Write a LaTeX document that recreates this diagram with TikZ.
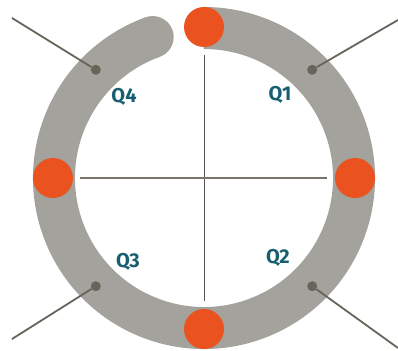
\documentclass[tikz,border=0pt]{standalone}
\usepackage{fontspec}
\setmainfont{Fira Sans}
\usepackage{xcolor}
\usepackage{tikz}
\definecolor{ringgrey}{HTML}{A4A29C}
\definecolor{pinorange}{HTML}{EA5220}
\definecolor{pindark}{HTML}{67645A}
\definecolor{axisdark}{HTML}{57534A}
\definecolor{qteal}{HTML}{175F70}

\begin{document}
\begin{tikzpicture}[x=1pt, y=1pt,
  ring/.style={draw=ringgrey, line width=42pt},
  bigdot/.style={circle, fill=pinorange, minimum size=40pt, inner sep=0pt},
  pin/.style={circle, fill=pindark, minimum size=10pt, inner sep=0pt},
  pinline/.style={pindark, line width=1.8pt},
  qlab/.style={font=\fontsize{20}{20}\selectfont\bfseries, text=qteal},
]
\useasboundingbox (-204,-172) rectangle (194,178);

% Ring (open at the top, round end on the left of the gap)
\draw[ring] (110:150) arc[start angle=110, end angle=450, radius=150];
\fill[ringgrey] (110:150) circle (21);

% Cross
\coordinate (ctop) at (0,123);
\coordinate (cbot) at (0,-123);
\coordinate (cleft) at (-124,0);
\coordinate (cright) at (123,0);
\draw[axisdark, line width=0.8pt] (ctop) -- (cbot);
\draw[axisdark!80, line width=1.2pt] (cleft) -- (cright);

% Orange markers on the ring
\node[bigdot] (mn) at (90:151) {};
\node[bigdot] (me) at (0:151) {};
\node[bigdot] (ms) at (270:151) {};
\node[bigdot] (mw) at (180:151) {};

% Pins with leader lines
\node[pin] (p1) at (45:153) {};
\node[pin] (p2) at (-45:153) {};
\node[pin] (p3) at (225:153) {};
\node[pin] (p4) at (135:153) {};
\coordinate (e1) at (194,158);
\coordinate (e2) at (194,-170);
\coordinate (e3) at (-192,-161);
\coordinate (e4) at (-192,160);
\draw[pinline] (p1) -- (e1);
\draw[pinline] (p2) -- (e2);
\draw[pinline] (p3) -- (e3);
\draw[pinline] (p4) -- (e4);

% Quarter labels
\node[qlab] (q1) at (76,83) {Q1};
\node[qlab] (q2) at (74,-80) {Q2};
\node[qlab] (q3) at (-76,-84) {Q3};
\node[qlab] (q4) at (-80,81) {Q4};
\end{tikzpicture}
\end{document}
